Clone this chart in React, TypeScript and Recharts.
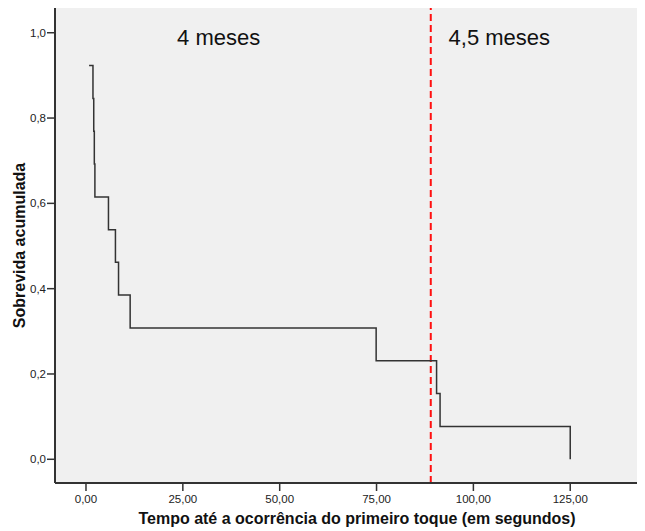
import React from 'react';
import {
  LineChart,
  Line,
  XAxis,
  YAxis,
  CartesianGrid,
  ReferenceLine,
  ReferenceDot,
} from 'recharts';

// Kaplan-Meier step curve (time in seconds, cumulative survival)
const times = [0.8, 1.8, 2.0, 2.15, 2.3, 5.8, 7.6, 8.4, 11.4, 74.9, 90.5, 91.4, 125];
const survival = [0.923, 0.846, 0.769, 0.692, 0.615, 0.538, 0.462, 0.385, 0.308, 0.231, 0.154, 0.077, 0];

const xTicks = [0, 25, 50, 75, 100, 125];
const yTicks = [0, 0.2, 0.4, 0.6, 0.8, 1.0];

const cutoffTime = 89;
const annotationTexts = ['4 meses', '4,5 meses'];
const annotationX = [34.25, 106.7];
const annotationY = [0.989, 0.989];

const xTitle = 'Tempo até a ocorrência do primeiro toque (em segundos)';
const yTitle = 'Sobrevida acumulada';

const data = times.map((t, i) => ({ t, s: survival[i] }));

const FONT = '"Liberation Sans", Arial, sans-serif';
const fmtX = (v: number) => v.toFixed(2).replace('.', ',');
const fmtY = (v: number) => v.toFixed(1).replace('.', ',');

const XTitle = () => (
  <text x={357} y={524} textAnchor="middle" fontFamily={FONT} fontWeight="bold" fontSize={16} fill="#111">
    {xTitle}
  </text>
);

const YTitle = () => (
  <text
    x={0}
    y={0}
    transform="translate(25,245.5) rotate(-90)"
    textAnchor="middle"
    fontFamily={FONT}
    fontWeight="bold"
    fontSize={16}
    fill="#111"
  >
    {yTitle}
  </text>
);

export default function App() {
  return (
    <div style={{ margin: '-8px 0 0 -8px', width: 645, height: 531, background: '#fff' }}>
      <LineChart
        width={645}
        height={531}
        data={data}
        margin={{ top: 8, right: 0, bottom: 0, left: 0 }}
        style={{ fontFamily: FONT }}
      >
        <CartesianGrid fill="#f0f0f0" horizontal={false} vertical={false} />
        <XAxis
          dataKey="t"
          type="number"
          domain={[-8, 144.3]}
          ticks={xTicks}
          tickFormatter={fmtX}
          allowDataOverflow
          height={48}
          tickSize={8}
          tickMargin={4}
          stroke="#333"
          axisLine={{ stroke: '#333', strokeWidth: 2 }}
          tickLine={{ stroke: '#333', strokeWidth: 1.5 }}
          tick={{ fill: '#222', fontSize: 11.5, fontFamily: FONT }}
          label={<XTitle />}
        />
        <XAxis
          xAxisId="top"
          orientation="top"
          type="number"
          domain={[-8, 144.3]}
          height={0}
          tick={false}
          tickLine={false}
          axisLine={{ stroke: '#222', strokeWidth: 2 }}
        />
        <YAxis
          type="number"
          domain={[-0.0556, 1.058]}
          ticks={yTicks}
          tickFormatter={fmtY}
          allowDataOverflow
          width={55}
          tickSize={8}
          tickMargin={1}
          axisLine={{ stroke: '#333', strokeWidth: 2 }}
          tickLine={{ stroke: '#333', strokeWidth: 1.5 }}
          tick={{ fill: '#222', fontSize: 11.5, fontFamily: FONT }}
          label={<YTitle />}
        />
        <ReferenceLine
          x={cutoffTime}
          stroke="#ff1010"
          strokeWidth={2}
          strokeDasharray="7 4"
        />
        {annotationTexts.map((txt, i) => (
          <ReferenceDot
            key={txt}
            x={annotationX[i]}
            y={annotationY[i]}
            r={0}
            fill="none"
            stroke="none"
            label={{ value: txt, position: 'center', fontSize: 22, fill: '#111', fontFamily: FONT }}
          />
        ))}
        <Line
          type="stepAfter"
          dataKey="s"
          stroke="#333"
          strokeWidth={1.5}
          dot={false}
          isAnimationActive={false}
        />
      </LineChart>
    </div>
  );
}
